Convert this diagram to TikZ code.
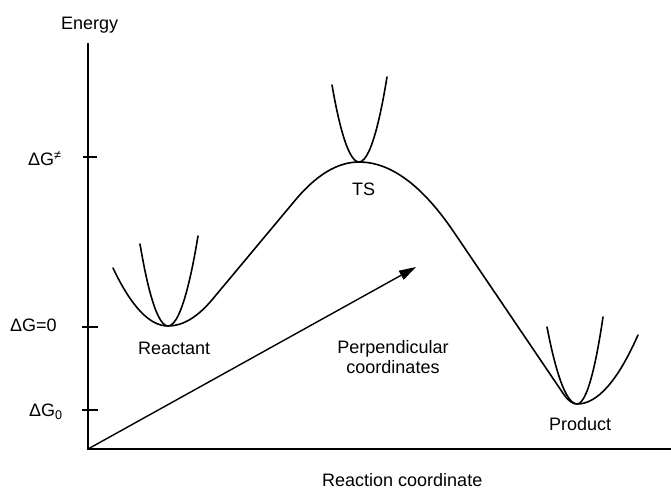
\documentclass[tikz,border=0pt]{standalone}
\usepackage{fontspec}
\setmainfont{Liberation Sans}
\usetikzlibrary{arrows.meta}
\begin{document}
\begin{tikzpicture}[x=1pt,y=-1pt,
  lbl/.style={inner sep=0pt, font=\fontsize{18}{20}\selectfont, anchor=base west},
  curve/.style={line width=1.6pt, black, line cap=round},
  axisline/.style={line width=1.7pt, black},
  tick/.style={line width=1.4pt, black}]
\useasboundingbox (0,0) rectangle (671,493);
% axes
\coordinate (top) at (88,43);
\coordinate (O) at (88,449);
\coordinate (xend) at (671,449);
\draw[axisline] (top) -- (O) -- (xend);
\coordinate (t1a) at (83,157); \coordinate (t1b) at (97,157);
\coordinate (t2a) at (82,327); \coordinate (t2b) at (98,327);
\coordinate (t3a) at (82,410); \coordinate (t3b) at (98,410);
\draw[tick] (t1a) -- (t1b);
\draw[tick] (t2a) -- (t2b);
\draw[tick] (t3a) -- (t3b);
% labels
\node[lbl] (energy) at (61,29.5) {Energy};
\node[lbl] (gts) at (28,165.5) {ΔG\textsuperscript{≠}};
\node[lbl] (g0) at (10,331.5) {ΔG=0};
\node[lbl] (gsub) at (29,416.5) {ΔG\textsubscript{0}};
\node[lbl] (reac) at (138,354) {Reactant};
\node[lbl] (ts) at (352,195.5) {TS};
\node[lbl, anchor=base] (perp1) at (393,353.3) {Perpendicular};
\node[lbl, anchor=base] (perp2) at (393,373) {coordinates};
\node[lbl] (prod) at (549,430) {Product};
\node[lbl] (rc) at (322,486.5) {Reaction coordinate};
% perpendicular coordinate arrow
\coordinate (tip) at (416,267);
\draw[line width=1.4pt, -{Triangle[length=17pt,width=10pt]}] (O) -- (tip);
% main energy profile
\coordinate (rmin) at (168,326);
\coordinate (tsmax) at (359,162);
\coordinate (pmin) at (577,404);
\draw[curve] (113,268) .. controls (131.33,306.67) and (149.67,326) .. (rmin)
 .. controls (182.77,326) and (197.53,317.17) .. (212.3,299.5)
 -- (295.3,200.1)
 .. controls (316.53,174.7) and (337.77,162) .. (tsmax)
 .. controls (390.53,162) and (422.07,185.23) .. (453.6,231.7)
 -- (563.6,394.1)
 .. controls (568.07,400.7) and (572.53,404) .. (pmin)
 .. controls (597.33,404) and (617.67,381) .. (638,335);
% narrow perpendicular wells
\draw[curve] (140,244) parabola bend (rmin) (198,236);
\draw[curve] (332,85) parabola bend (tsmax) (387,77);
\draw[curve] (547,327) parabola bend (pmin) (603,317);
\end{tikzpicture}
\end{document}
